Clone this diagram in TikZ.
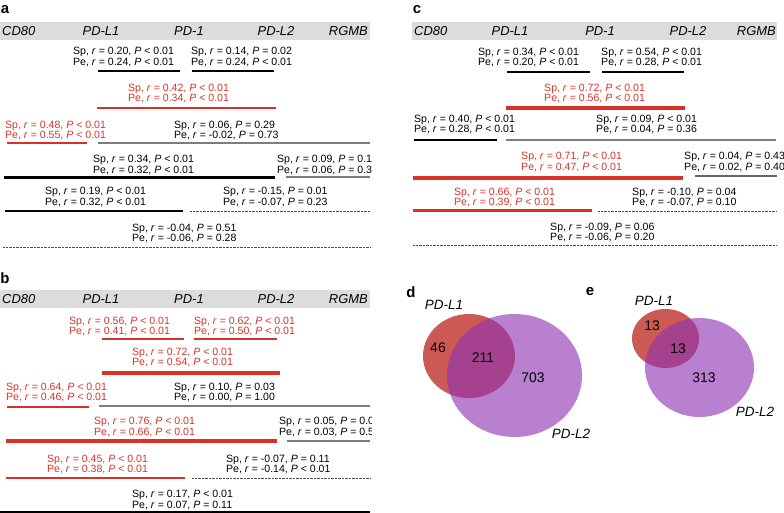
\documentclass[tikz,border=0pt]{standalone}
\usepackage{fontspec}
\setmainfont{Liberation Sans}
\usepackage{xcolor}
\usetikzlibrary{positioning}

\definecolor{sigred}{RGB}{216,50,40}
\definecolor{bandgray}{RGB}{220,220,220}
\definecolor{nsgray}{RGB}{125,125,125}
\definecolor{vennred}{RGB}{204,90,84}
\definecolor{vennpur}{RGB}{142,50,178}

\newcommand{\stat}[4]{Sp, \textit{r} = #1, \textit{P} #2\\Pe, \textit{r} = #3, \textit{P} #4}

\begin{document}
\begin{tikzpicture}[x=1bp, y=-1bp,
  font=\fontsize{10.6}{11}\selectfont,
  st/.style={anchor=west, align=left, inner sep=0pt},
  sig/.style={st, text=sigred},
  gene/.style={font=\fontsize{13}{13}\selectfont\itshape, inner sep=0pt},
  lbl/.style={font=\fontsize{15}{15}\selectfont\bfseries, inner sep=0pt},
  band/.style={fill=bandgray, draw=none},
  lk/.style={line width=#1, black},
  lr/.style={line width=#1, sigred},
  lg/.style={line width=1.2bp, nsgray},
  ld/.style={line width=0.9bp, black!70, dash pattern=on 0.7bp off 0.7bp},
  venn/.style={font=\fontsize{14}{14}\selectfont, inner sep=0pt},
  vgene/.style={font=\fontsize{13.5}{13.5}\selectfont\itshape, inner sep=0pt}]
\useasboundingbox (0,0) rectangle (784,513);

\begin{scope}
\clip (0,0) rectangle (371,513);
% panel a
\node[lbl] (pa) at (5,10) {a};
\fill[band] (0,22) rectangle (370,40);
\node[gene, anchor=west] (acd) at (2,31) {CD80};
\node[gene] (al1) at (101,31) {PD-L1};
\node[gene] (ap1) at (189,31) {PD-1};
\node[gene] (al2) at (276,31) {PD-L2};
\node[gene, anchor=east] (arg) at (368,31) {RGMB};
\node[st] (a1l) at (73,57) {\stat{0.20}{< 0.01}{0.24}{< 0.01}};
\node[st] (a1r) at (191,57) {\stat{0.14}{= 0.02}{0.24}{< 0.01}};
\node[sig] (a2) at (128,93.5) {\stat{0.42}{< 0.01}{0.34}{< 0.01}};
\node[sig] (a3l) at (5,130.5) {\stat{0.48}{< 0.01}{0.55}{< 0.01}};
\node[st] (a3r) at (174,130.5) {\stat{0.06}{= 0.29}{-0.02}{= 0.73}};
\node[st] (a4l) at (93,165) {\stat{0.34}{< 0.01}{0.32}{< 0.01}};
\node[st] (a4r) at (277,165) {\stat{0.09}{= 0.13}{0.06}{= 0.34}};
\node[st] (a5l) at (45,197) {\stat{0.19}{< 0.01}{0.32}{< 0.01}};
\node[st] (a5r) at (223,197) {\stat{-0.15}{= 0.01}{-0.07}{= 0.23}};
\node[st] (a6) at (132,233.5) {\stat{-0.04}{= 0.51}{-0.06}{= 0.28}};
\draw[lk=1.5bp] (98,71) -- (180,71);
\draw[lk=1.5bp] (192,71) -- (274,71);
\draw[lr=2bp] (97,108) -- (276,108);
\draw[lr=2bp] (7,143) -- (87,143);
\draw[lg] (98,143) -- (370,143);
\draw[lk=3bp] (4,178) -- (275,178);
\draw[lg] (286,177) -- (370,177);
\draw[lk=2bp] (5,211) -- (183,211);
\draw[ld] (190,211) -- (370,211);
\draw[ld] (3,247) -- (370,247);

% panel b
\node[lbl] (pb) at (5,278) {b};
\fill[band] (0,290) rectangle (370,308);
\node[gene, anchor=west] (bcd) at (2,299) {CD80};
\node[gene] (bl1) at (101,299) {PD-L1};
\node[gene] (bp1) at (189,299) {PD-1};
\node[gene] (bl2) at (276,299) {PD-L2};
\node[gene, anchor=east] (brg) at (368,299) {RGMB};
\node[sig] (b1l) at (69,326.5) {\stat{0.56}{< 0.01}{0.41}{< 0.01}};
\node[sig] (b1r) at (194,326.5) {\stat{0.62}{< 0.01}{0.50}{< 0.01}};
\node[sig] (b2) at (132,357.5) {\stat{0.72}{< 0.01}{0.54}{< 0.01}};
\node[sig] (b3l) at (6,392.5) {\stat{0.64}{< 0.01}{0.46}{< 0.01}};
\node[st] (b3r) at (174,392.5) {\stat{0.10}{= 0.03}{0.00}{= 1.00}};
\node[sig] (b4l) at (94,427) {\stat{0.76}{< 0.01}{0.66}{< 0.01}};
\node[st] (b4r) at (279,427) {\stat{0.05}{= 0.03}{0.03}{= 0.57}};
\node[sig] (b5l) at (47,464.5) {\stat{0.45}{< 0.01}{0.38}{< 0.01}};
\node[st] (b5r) at (226,464.5) {\stat{-0.07}{= 0.11}{-0.14}{< 0.01}};
\node[st] (b6) at (132,500) {\stat{0.17}{< 0.01}{0.07}{= 0.11}};
\draw[lr=2.2bp] (102,339) -- (184,339);
\draw[lr=2.2bp] (194,339) -- (277,339);
\draw[lr=3.5bp] (102,373) -- (280,373);
\draw[lr=2.8bp] (7,407) -- (89,407);
\draw[lg] (99,406) -- (370,406);
\draw[lr=3.5bp] (6,441) -- (277,441);
\draw[lg] (287,441) -- (370,441);
\draw[lr=2.8bp] (6,478) -- (185,478);
\draw[ld] (192,478) -- (370,478);
\draw[lk=1.3bp] (0,512) -- (370,512);
\end{scope}

% panel c
\node[lbl] (pc) at (417,10) {c};
\fill[band] (412,22) rectangle (777,40);
\node[gene, anchor=west] (ccd) at (414,31) {CD80};
\node[gene] (cl1) at (510,31) {PD-L1};
\node[gene] (cp1) at (600,31) {PD-1};
\node[gene] (cl2) at (688,31) {PD-L2};
\node[gene, anchor=east] (crg) at (776,31) {RGMB};
\node[st] (c1l) at (478,57.5) {\stat{0.34}{< 0.01}{0.20}{< 0.01}};
\node[st] (c1r) at (601,57.5) {\stat{0.54}{< 0.01}{0.28}{< 0.01}};
\node[sig] (c2) at (544,93.5) {\stat{0.72}{< 0.01}{0.56}{< 0.01}};
\node[st] (c3l) at (414,124.5) {\stat{0.40}{< 0.01}{0.28}{< 0.01}};
\node[st] (c3r) at (596,124.5) {\stat{0.09}{< 0.01}{0.04}{= 0.36}};
\node[sig] (c4l) at (521,162) {\stat{0.71}{< 0.01}{0.47}{< 0.01}};
\node[st] (c4r) at (684,162) {\stat{0.04}{= 0.43}{0.02}{= 0.40}};
\node[sig] (c5l) at (454,197.5) {\stat{0.66}{< 0.01}{0.39}{< 0.01}};
\node[st] (c5r) at (632,197.5) {\stat{-0.10}{= 0.04}{-0.07}{= 0.10}};
\node[st] (c6) at (550,232.5) {\stat{-0.09}{= 0.06}{-0.06}{= 0.20}};
\draw[lk=1.8bp] (507,72) -- (590,72);
\draw[lk=2.8bp] (602,72) -- (684,72);
\draw[lr=3.5bp] (506,108) -- (685,108);
\draw[lk=2.5bp] (414,140) -- (497,140);
\draw[lg] (506,140) -- (776,140);
\draw[lr=3.5bp] (413,178) -- (683,178);
\draw[lg, black!60] (695,176) -- (777,176);
\draw[lr=3bp] (413,211) -- (592,211);
\draw[ld] (598,211) -- (777,211);
\draw[ld] (413,245) -- (777,245);

% panel d
\node[lbl] (pd) at (411,292) {d};
\fill[vennred] (469,356) ellipse [x radius=46bp, y radius=42bp];
\fill[vennpur, opacity=0.62] (514.5,375.5) ellipse [x radius=67.5bp, y radius=61.5bp];
\node[vgene] (dl1) at (444,305) {PD-L1};
\node[vgene] (dl2) at (571,434) {PD-L2};
\node[venn] (d46) at (438,348) {46};
\node[venn] (d211) at (483,358) {211};
\node[venn] (d703) at (533,378) {703};

% panel e
\node[lbl] (pe) at (590,292) {e};
\fill[vennred] (665.5,338.5) ellipse [x radius=33.5bp, y radius=29.5bp];
\fill[vennpur, opacity=0.62] (699.5,367.5) ellipse [x radius=54.5bp, y radius=49.5bp];
\node[vgene] (el1) at (654,301) {PD-L1};
\node[vgene] (el2) at (755,412) {PD-L2};
\node[venn] (e13a) at (652,326) {13};
\node[venn] (e13b) at (678,349) {13};
\node[venn] (e313) at (704,378) {313};
\end{tikzpicture}
\end{document}
